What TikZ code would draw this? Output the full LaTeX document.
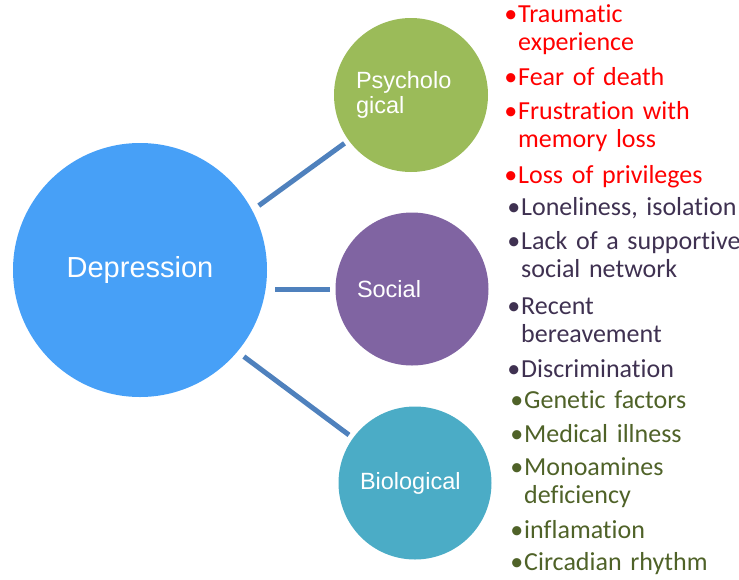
\documentclass[tikz,border=0pt]{standalone}
\usepackage{fontspec}
\setmainfont{Carlito}[Ligatures=NoCommon]
\newfontfamily\bubblefont{Liberation Sans}
\usetikzlibrary{positioning}
\definecolor{depblue}{RGB}{71,160,247}
\definecolor{psygreen}{RGB}{155,187,89}
\definecolor{socpurple}{RGB}{128,100,162}
\definecolor{biocyan}{RGB}{75,172,198}
\definecolor{linkblue}{RGB}{79,129,189}
\definecolor{psytext}{RGB}{255,0,0}
\definecolor{soctext}{RGB}{63,49,81}
\definecolor{biotext}{RGB}{79,98,40}
\newcommand\bul{\llap{\textbullet\hspace{1pt}}}

\begin{document}
\begin{tikzpicture}[x=1pt, y=-1pt,
    bubble/.style={circle, inner sep=0pt, text=white, align=left, text width=110pt,
      font=\bubblefont\fontsize{23.5}{25}\selectfont},
    link/.style={line width=5pt, color=linkblue, shorten <=8pt, shorten >=5pt},
    cause/.style={anchor=base west, inner sep=0pt, align=left, text width=250pt,
      font=\fontsize{26}{28}\selectfont}]
    \useasboundingbox (0,0) rectangle (739,579);
    % the three groups of causes
    \node[circle, fill=depblue, minimum size=254pt, text=white, font=\bubblefont\fontsize{29}{31}\selectfont] (dep) at (140,270) {Depression};
    \node[bubble, fill=psygreen, minimum size=154pt] (psy) at (411,95) {Psycholo\\gical};
    \node[bubble, fill=socpurple, minimum size=153pt] (soc) at (412,289) {Social};
    \node[bubble, fill=biocyan, minimum size=153pt] (bio) at (415,483) {Biological};
    \draw[link] (dep.28) -- (psy.216);
    \draw[link] (dep.east |- soc.west) -- (soc.west);
    \draw[link] (dep.-40) -- (bio.144);
    % psychological
    \node[cause, text=psytext] (trauma) at (518,22) {\bul Traumatic\\experience};
    \node[cause, text=psytext] (fear) at (518,85) {\bul Fear of death};
    \node[cause, text=psytext] (frust) at (518,119) {\bul Frustration with\\memory loss};
    \node[cause, text=psytext] (privil) at (518,183) {\bul Loss of privileges};
    % social
    \node[cause, text=soctext] (lonely) at (521,215) {\bul Loneliness, isolation};
    \node[cause, text=soctext] (support) at (521,249) {\bul Lack of a supportive\\social network};
    \node[cause, text=soctext] (bereav) at (521,314) {\bul Recent\\bereavement};
    \node[cause, text=soctext] (discrim) at (521,377) {\bul Discrimination};
    % biological
    \node[cause, text=biotext] (genetic) at (524,408) {\bul Genetic factors};
    \node[cause, text=biotext] (medical) at (524,442) {\bul Medical illness};
    \node[cause, text=biotext] (monoam) at (524,475) {\bul Monoamines\\deficiency};
    \node[cause, text=biotext] (inflam) at (524,538) {\bul inflamation};
    \node[cause, text=biotext] (circad) at (524,570) {\bul Circadian rhythm};
\end{tikzpicture}
\end{document}
